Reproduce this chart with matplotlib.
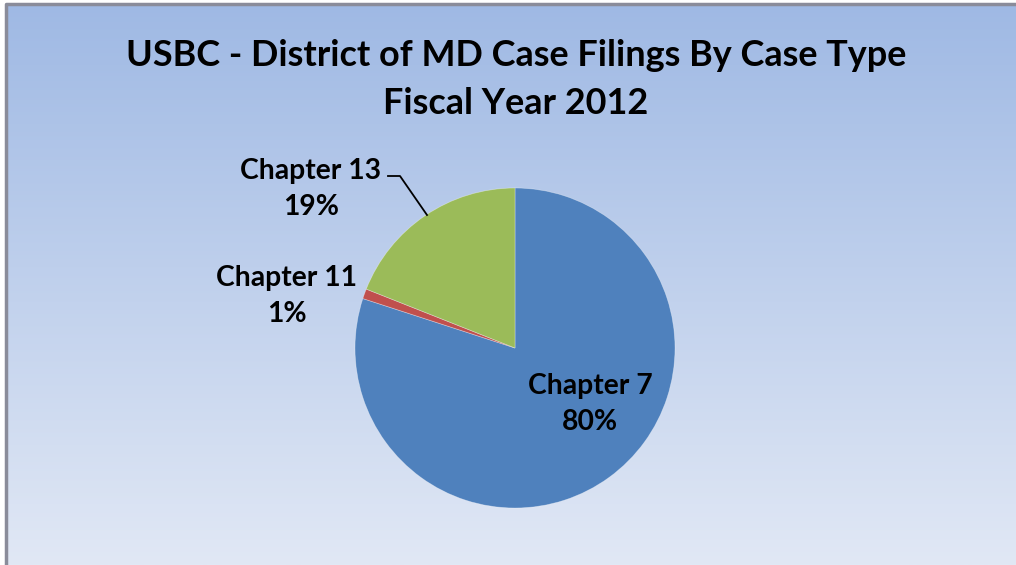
import numpy as np
import matplotlib
matplotlib.use("Agg")
import matplotlib.pyplot as plt
from matplotlib.colors import LinearSegmentedColormap

categories = ["Chapter 7", "Chapter 11", "Chapter 13"]
percents = [80, 1, 19]
colors = ["#4f81bd", "#c0504d", "#9bbb59"]
title_lines = ["USBC - District of MD Case Filings By Case Type", "Fiscal Year 2012"]

plt.rcParams['font.family'] = ['Lato', 'DejaVu Sans']

W, H = 1016, 565
fig = plt.figure(figsize=(W / 100, H / 100), dpi=100)
ax = fig.add_axes([0, 0, 1, 1])
ax.set_xlim(0, W)
ax.set_ylim(0, H)
ax.axis('off')

# background gradient
cmap = LinearSegmentedColormap.from_list("bg", ["#e1e8f5", "#9fb9e4"])
grad = np.linspace(0, 1, 256).reshape(-1, 1)
ax.imshow(grad, cmap=cmap, aspect='auto', extent=[6, W, 0, H - 4], origin='lower', zorder=0)
# border
ax.plot([6, 6, W], [0, H - 4, H - 4], color="#8a8c9a", lw=2.5, zorder=1, solid_capstyle='butt')

ax.pie(percents, colors=colors, startangle=90, counterclock=False,
       center=(515, H - 348), radius=160, frame=True,
       wedgeprops=dict(linewidth=0.5, edgecolor=(1, 1, 1, 0.4)))
ax.set_xlim(0, W)
ax.set_ylim(0, H)
ax.set_aspect('auto')
ax.axis('off')

ax.text(516, H - 56, title_lines[0], ha='center', va='center', fontsize=25.9, fontweight='bold')
ax.text(516, H - 103, title_lines[1], ha='center', va='center', fontsize=25.9, fontweight='bold')

label_pos = [(590, H - 404), (287, H - 296), (311, H - 189)]
for (x, y), c, p in zip(label_pos, categories, percents):
    ax.text(x, y, f"{c}\n{p}%", ha='center', va='center', fontsize=20.3,
            fontweight='bold', linespacing=1.5)

ax.plot([388, 400, 427], [H - 176, H - 176, H - 215], color='black', lw=1.3)

fig.savefig("out.png", dpi=100)
